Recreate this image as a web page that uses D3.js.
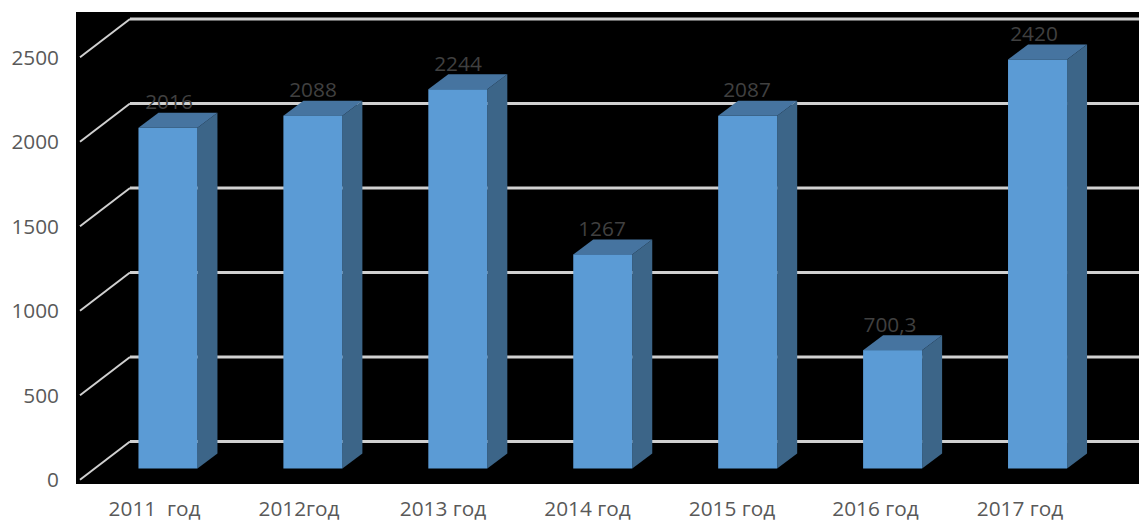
<!DOCTYPE html>
<html><head><meta charset="utf-8">
<script src="https://cdn.jsdelivr.net/npm/d3@7/dist/d3.min.js"></script>
<style>html,body{margin:0;padding:0;background:#fff;overflow:hidden}svg{display:block}text{font-family:"Open Sans",sans-serif;font-size:20.8px}</style>
</head><body><svg id="c" width="1139" height="521"></svg>
<script>
const categories=["2011  год","2012год","2013 год","2014 год","2015 год","2016 год","2017 год"];
const values=[2016,2088,2244,1267,2087,700.3,2420];
const valueLabels=["2016","2088","2244","1267","2087","700,3","2420"];
const yTicks=[0,500,1000,1500,2000,2500];
const axisLabelCentres=[154.5,299,443,587.5,732,875.5,1020];
const valueLabelCentres=[169,313,458,602,747,890,1034];

const svg=d3.select("#c");
const dx=20,dy=-15,barW=59;
const y=d3.scaleLinear().domain([0,2500]).range([468.5,46]);
const x=d3.scaleBand().domain(categories).range([95.5,1110]).paddingInner(0).paddingOuter(0);
const left=c=>x(c)+(x.bandwidth()-barW)/2;

svg.append("rect").attr("x",76).attr("y",12).attr("width",1063).attr("height",472).attr("fill","#000");

const grid=svg.append("g");
const gy=v=>y(v)-27;
yTicks.forEach(v=>{
  grid.append("line").attr("x1",130).attr("x2",1139).attr("y1",gy(v)).attr("y2",gy(v))
    .attr("stroke","#d0d0d0").attr("stroke-width",3);
  grid.append("path").attr("d",`M80,${gy(v)+38.2}L130,${gy(v)}`)
    .attr("stroke","#d0d0d0").attr("stroke-width",2).attr("fill","none");
  svg.append("text").attr("x",59).attr("y",y(v)+18.7).attr("text-anchor","end")
    .attr("fill","#595959").text(v);
});

const bars=svg.append("g").selectAll("g").data(categories).join("g");
bars.append("path").attr("fill","#3c6588")
  .attr("d",(c,i)=>{const X=left(c)+barW,T=y(values[i]),B=y(0);
    return `M${X},${T}l${dx},${dy}L${X+dx},${B+dy}L${X},${B}Z`;});
bars.append("path").attr("fill","#4674a0")
  .attr("d",(c,i)=>{const X=left(c),T=y(values[i]);
    return `M${X},${T}l${dx},${dy}h${barW}l${-dx},${-dy}Z`;});
bars.append("rect").attr("fill","#5b9bd5")
  .attr("x",c=>left(c)).attr("width",barW)
  .attr("y",(c,i)=>y(values[i])).attr("height",(c,i)=>y(0)-y(values[i]));
bars.append("text").attr("text-anchor","middle").attr("fill","#404040")
  .attr("x",(c,i)=>valueLabelCentres[i]).attr("y",(c,i)=>y(values[i])-18.5)
  .text((c,i)=>valueLabels[i]);

svg.append("g").selectAll("text").data(categories).join("text")
  .attr("x",(c,i)=>axisLabelCentres[i]).attr("y",515.5).attr("text-anchor","middle")
  .attr("fill","#595959").attr("xml:space","preserve").style("white-space","pre").text(c=>c);
</script></body></html>
